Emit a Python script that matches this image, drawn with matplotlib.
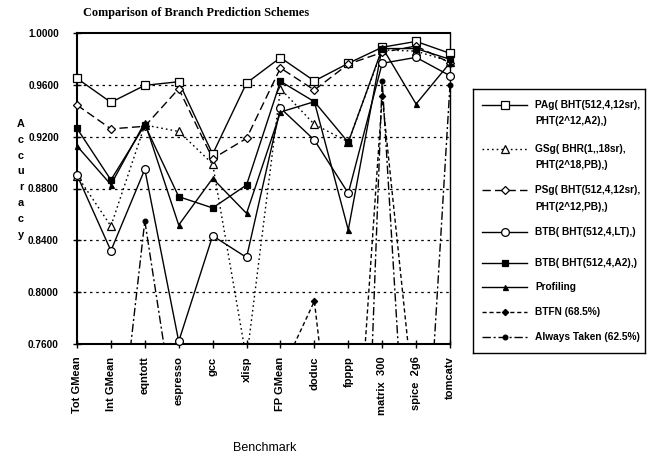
import matplotlib
matplotlib.use("Agg")
import matplotlib.pyplot as plt
import numpy as np

categories = ["Tot GMean", "Int GMean", "eqntott", "espresso", "gcc", "xlisp",
              "FP GMean", "doduc", "fpppp", "matrix  300", "spice  2g6", "tomcatv"]

pag       = [0.9650, 0.9465, 0.9596, 0.9624, 0.9065, 0.9614, 0.9810, 0.9630, 0.9766, 0.9890, 0.9935, 0.9843]
gsg       = [0.8900, 0.8510, 0.9290, 0.9240, 0.8990, 0.7480, 0.9570, 0.9295, 0.9160, 0.9870, 0.9860, 0.9780]
psg       = [0.9444, 0.9260, 0.9280, 0.9570, 0.9030, 0.9187, 0.9730, 0.9560, 0.9760, 0.9850, 0.9900, 0.9770]
btb_lt    = [0.8904, 0.8320, 0.8948, 0.7620, 0.8435, 0.8268, 0.9420, 0.9174, 0.8763, 0.9766, 0.9812, 0.9670]
btb_a2    = [0.9264, 0.8866, 0.9290, 0.8737, 0.8650, 0.8827, 0.9627, 0.9470, 0.9156, 0.9880, 0.9880, 0.9797]
profiling = [0.9128, 0.8830, 0.9310, 0.8518, 0.8878, 0.8608, 0.9390, 0.9470, 0.8480, 0.9890, 0.9452, 0.9770]
btfn      = [0.600, 0.580, 0.620, 0.600, 0.580, 0.550, 0.737, 0.793, 0.569, 0.951, 0.700, 0.700]
always    = [0.600, 0.624, 0.855, 0.685, 0.580, 0.550, 0.550, 0.500, 0.260, 0.963, 0.530, 0.960]

series_labels = ["PAg( BHT(512,4,12sr),\nPHT(2^12,A2),)",
                 "GSg( BHR(1,,18sr),\nPHT(2^18,PB),)",
                 "PSg( BHT(512,4,12sr),\nPHT(2^12,PB),)",
                 "BTB( BHT(512,4,LT),)",
                 "BTB( BHT(512,4,A2),)",
                 "Profiling",
                 "BTFN (68.5%)",
                 "Always Taken (62.5%)"]

yticks = [0.76, 0.80, 0.84, 0.88, 0.92, 0.96, 1.00]
ymin, ymax = 0.76, 1.00

W, H = 648, 458
fig = plt.figure(figsize=(W / 100, H / 100), dpi=100)
fig.patch.set_facecolor("white")

ax = fig.add_axes([77 / W, 1 - 344 / H, (450 - 77) / W, (344 - 33) / H])

styles = [
    dict(ls="-", marker="s", ms=5.4, mfc="white", mec="black", lw=1.0),
    dict(ls=(0, (1.2, 2.2)), marker="^", ms=5.4, mfc="white", mec="black", lw=1.0),
    dict(ls=(0, (6, 3)), marker="D", ms=3.8, mfc="white", mec="black", lw=1.0),
    dict(ls="-", marker="o", ms=5.6, mfc="white", mec="black", lw=1.0),
    dict(ls="-", marker="s", ms=3.8, mfc="black", mec="black", lw=1.0),
    dict(ls="-", marker="^", ms=3.6, mfc="black", mec="black", lw=1.0),
    dict(ls=(0, (3, 2)), marker="D", ms=3.2, mfc="black", mec="black", lw=1.0),
    dict(ls=(0, (6, 2, 1.5, 2)), marker="o", ms=3.4, mfc="black", mec="black", lw=1.0),
]
all_series = [pag, gsg, psg, btb_lt, btb_a2, profiling, btfn, always]

x = np.arange(len(categories))
for k, (vals, st) in enumerate(zip(all_series, styles)):
    v = np.array(vals, dtype=float)
    ax.plot(x, v, color="black", ls=st["ls"], lw=st["lw"], zorder=3 + k * 0.1)
    vm = np.where((v >= ymin - 1e-9) & (v <= ymax + 1e-9), v, np.nan)
    ax.plot(x, vm, ls="none", marker=st["marker"], ms=st["ms"], mfc=st["mfc"],
            mec=st["mec"], mew=0.9, color="black", clip_on=False, zorder=4 + k * 0.1)

ax.set_xlim(0, len(categories) - 1)
ax.set_ylim(ymin, ymax)
ax.set_yticks(yticks)
ax.set_yticklabels(["%.4f" % t for t in yticks], fontsize=7.2, fontweight="bold",
                   family="Liberation Sans")
ax.set_xticks(x)
ax.set_xticklabels(categories, rotation=90, fontsize=8, fontweight="bold",
                   family="Liberation Sans", va="top")
ax.tick_params(axis="both", direction="inout", length=6, width=1.0, color="black")
ax.tick_params(axis="y", pad=10)
ax.tick_params(axis="x", pad=6)
for t in yticks[1:-1]:
    ax.axhline(t, color="black", lw=0.9, ls=(0, (2, 3)), zorder=1)
for s in ["left", "bottom", "top"]:
    ax.spines[s].set_linewidth(1.5)
ax.spines["right"].set_linewidth(1.0)

# title, axis labels
fig.text(83 / W, 1 - 13 / H, "Comparison of Branch Prediction Schemes",
         family="Liberation Serif", fontweight="bold", fontsize=8.8, va="center", ha="left")
fig.text(265 / W, 1 - 448 / H, "Benchmark", family="Liberation Sans",
         fontsize=9, ha="center", va="center")
for i, ch in enumerate("Accuracy"):
    fig.text(21 / W, 1 - (124 + 15.8 * i) / H, ch, family="Liberation Sans",
             fontweight="bold", fontsize=7.8, ha="center", va="center")

# legend box
lax = fig.add_axes([473 / W, 1 - 353 / H, (645 - 473) / W, (353 - 89) / H])
lax.set_xlim(473, 645)
lax.set_ylim(353, 89)
lax.set_xticks([])
lax.set_yticks([])
for s in lax.spines.values():
    s.set_linewidth(1.0)
leg_y = [105, 149, 190, 232, 263, 287, 312, 337]
for st, lab, yy in zip(styles, series_labels, leg_y):
    lax.plot([482, 505, 527], [yy, yy, yy], color="black", ls=st["ls"], lw=st["lw"],
             marker=st["marker"], ms=st["ms"], mfc=st["mfc"], mec=st["mec"],
             mew=0.9, markevery=[1])
    for j, line in enumerate(lab.split("\n")):
        lax.text(535, yy + 16.5 * j, line, family="Liberation Sans", fontweight="bold",
                 fontsize=7.3, ha="left", va="center")

fig.savefig("out.png", dpi=100)
